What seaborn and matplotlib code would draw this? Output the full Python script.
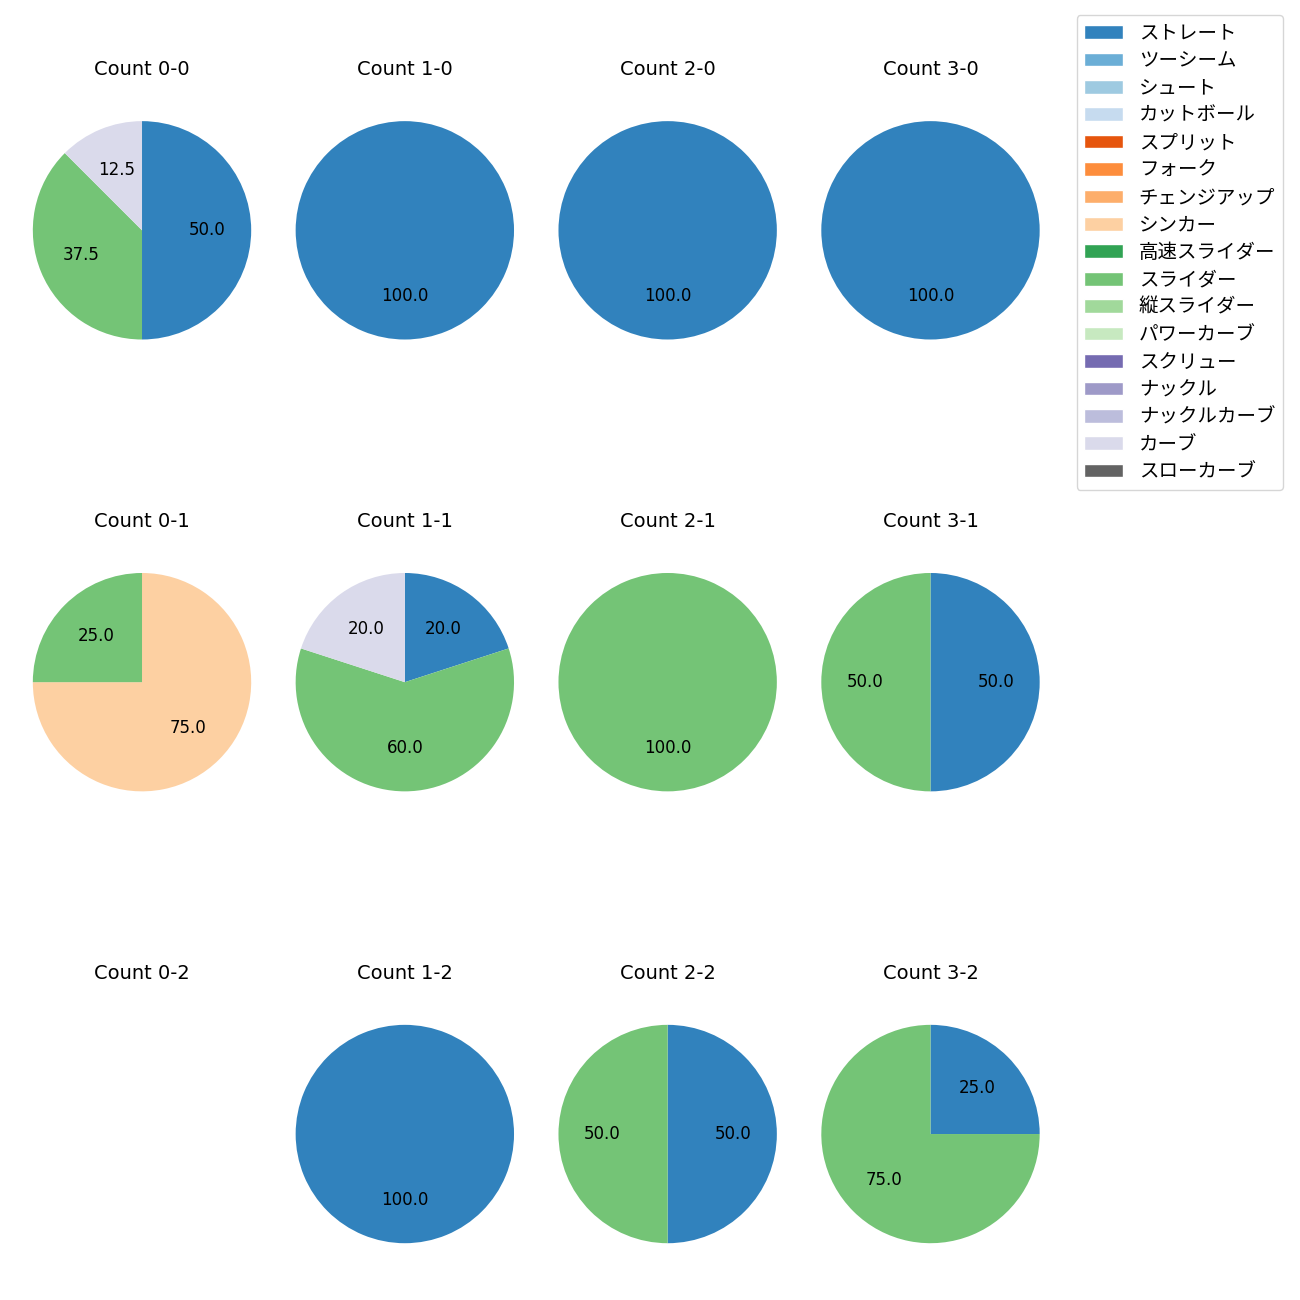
import matplotlib
matplotlib.use("Agg")
import matplotlib.pyplot as plt
import seaborn as sns
from matplotlib.patches import Patch

sns.set_style("white")
plt.rcParams['font.family'] = ['DejaVu Sans', 'Noto Sans CJK JP']
plt.rcParams['text.color'] = 'black'

pitch_types = ["ストレート", "ツーシーム", "シュート", "カットボール", "スプリット", "フォーク",
               "チェンジアップ", "シンカー", "高速スライダー", "スライダー", "縦スライダー",
               "パワーカーブ", "スクリュー", "ナックル", "ナックルカーブ", "カーブ", "スローカーブ"]

balls = [0, 1, 2, 3]
strikes = [0, 1, 2]

# pitch counts per ball-strike count (only non-zero pitch types)
count_0_0 = {"ストレート": 4, "スライダー": 3, "カーブ": 1}
count_1_0 = {"ストレート": 1}
count_2_0 = {"ストレート": 1}
count_3_0 = {"ストレート": 1}
count_0_1 = {"シンカー": 3, "スライダー": 1}
count_1_1 = {"ストレート": 1, "スライダー": 3, "カーブ": 1}
count_2_1 = {"スライダー": 1}
count_3_1 = {"ストレート": 1, "スライダー": 1}
count_0_2 = {}
count_1_2 = {"ストレート": 1}
count_2_2 = {"ストレート": 1, "スライダー": 1}
count_3_2 = {"ストレート": 1, "スライダー": 3}

grid = [[count_0_0, count_1_0, count_2_0, count_3_0],
        [count_0_1, count_1_1, count_2_1, count_3_1],
        [count_0_2, count_1_2, count_2_2, count_3_2]]

palette = sns.color_palette("tab20c", len(pitch_types))
color_map = dict(zip(pitch_types, palette))

fig, axes = plt.subplots(3, 4, figsize=(13, 13), dpi=100)
fig.subplots_adjust(left=0.025, right=0.8, top=0.9359, bottom=0.0146, hspace=0.537, wspace=0.2)

for r, s in enumerate(strikes):
    for c, b in enumerate(balls):
        ax = axes[r][c]
        data = grid[r][c]
        ax.set_title(f"Count {b}-{s}", fontsize=14, family=['DejaVu Sans'], color='black')
        if not data:
            ax.axis("off")
            continue
        labels = [p for p in pitch_types if p in data]
        vals = [data[p] for p in labels]
        ax.pie(vals, colors=[color_map[p] for p in labels], startangle=90,
               counterclock=False, autopct="%.1f", pctdistance=0.6, radius=1.0,
               wedgeprops={"linewidth": 0, "edgecolor": "none"},
               textprops={"fontsize": 12, "family": ["DejaVu Sans"], "color": "black"})
        ax.set_aspect("equal", adjustable="datalim")
        ax.set_xlim(-1.003, 1.003)
        ax.set_ylim(-1.003, 1.003)

handles = [Patch(facecolor=color_map[p], label=p) for p in pitch_types]
leg = fig.legend(handles=handles, loc="upper right",
                 bbox_to_anchor=(1283 / 1300, 1 - 15 / 1300), borderaxespad=0,
                 prop={"family": ["Noto Sans CJK JP"], "size": 14}, labelspacing=0.33)
for t in leg.get_texts():
    t.set_color("black")

fig.savefig("out.png", dpi=100)
